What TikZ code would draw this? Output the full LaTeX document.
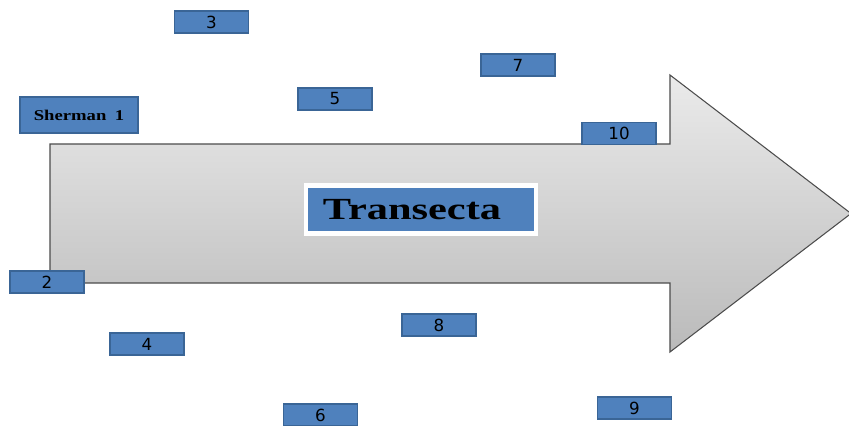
\documentclass[tikz,border=0pt]{standalone}
\usepackage{fontspec}
\setmainfont{Liberation Serif}
\newfontfamily\numfont{DejaVu Sans}
\usepackage{graphicx}
\usepackage{tikz}
\usetikzlibrary{shapes,arrows.meta}
\usetikzlibrary{shadows}
\usetikzlibrary{positioning}
\definecolor{boxblue}{HTML}{4F81BD}
\definecolor{boxedge}{HTML}{3A6596}
\tikzstyle{site} = [rectangle, draw=boxedge, fill=boxblue, line width=0.6pt,
    minimum width=1.48cm, minimum height=0.44cm, inner sep=0pt, font=\numfont\fontsize{9.5}{9.5}\selectfont]
\tikzstyle{label} = [site, minimum width=2.36cm, minimum height=0.72cm, font=\bfseries\fontsize{8.5}{8.5}\selectfont]
\tikzstyle{title} = [rectangle, draw=white, line width=2.4pt, fill=boxblue,
    minimum width=4.6cm, minimum height=0.96cm, inner sep=0pt,
    drop shadow={shadow xshift=0.5pt, shadow yshift=-1.2pt, opacity=0.35},
    font=\bfseries\fontsize{17.5}{17.5}\selectfont]

\begin{document}
\begin{tikzpicture}[x=0.02cm,y=-0.02cm]
    \useasboundingbox (0,0) rectangle (849,426);
    % Big arrow
    \path[draw=black!70, line width=0.6pt, top color=black!8, bottom color=black!27]
        (50,144) -- (670,144) -- (670,75) -- (851,213.5) -- (670,352)
        -- (670,283) -- (50,283) -- cycle;
    % Place nodes
    \node [title] (transecta) at (421,209.5) {\scalebox{1.38}[1]{Transecta}\kern0.36cm};
    \node [label] (sherman) at (79,115) {\scalebox{1.25}[1]{Sherman\hspace{0.2em} 1}};
    \node [site] (s2) at (47,282) {2};
    \node [site] (s3) at (211.5,22) {3};
    \node [site] (s4) at (147,344) {4};
    \node [site] (s5) at (335,99) {5};
    \node [site] (s6) at (320.5,415) {6};
    \node [site] (s7) at (518,65) {7};
    \node [site] (s8) at (439,325) {8};
    \node [site] (s9) at (634.5,408) {9};
    \node [site] (s10) at (619,133.5) {10};
\end{tikzpicture}
\end{document}
